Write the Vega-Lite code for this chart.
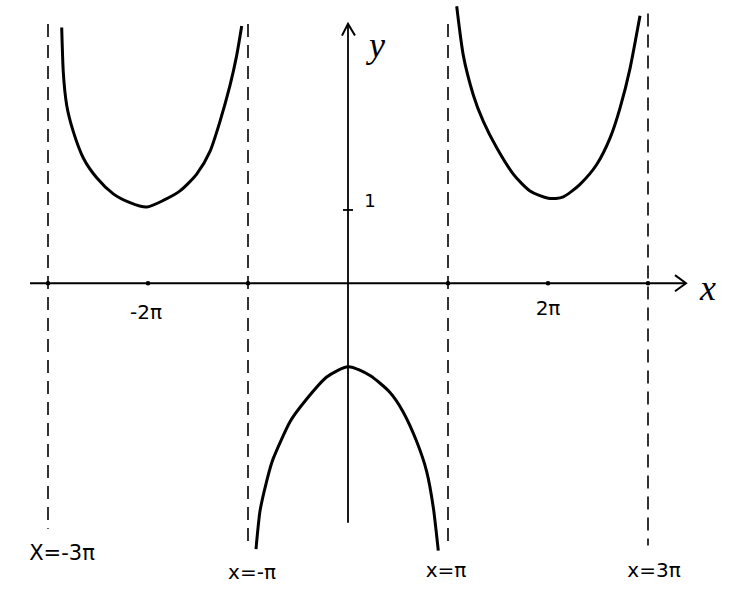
{
  "$schema": "https://vega.github.io/schema/vega-lite/v6.json",
  "width": 738,
  "height": 607,
  "autosize": {"type": "fit", "contains": "padding"},
  "padding": 0,
  "background": "white",
  "config": {"view": {"stroke": null}},
  "datasets": {
    "curve": [
      {"branch": "L", "i": 1, "x": -2.863, "y": 3.49},
      {"branch": "L", "i": 2, "x": -2.847, "y": 2.88},
      {"branch": "L", "i": 3, "x": -2.813, "y": 2.43},
      {"branch": "L", "i": 4, "x": -2.747, "y": 2.07},
      {"branch": "L", "i": 5, "x": -2.647, "y": 1.71},
      {"branch": "L", "i": 6, "x": -2.513, "y": 1.44},
      {"branch": "L", "i": 7, "x": -2.347, "y": 1.22},
      {"branch": "L", "i": 8, "x": -2.18, "y": 1.1},
      {"branch": "L", "i": 9, "x": -2.013, "y": 1.04},
      {"branch": "L", "i": 10, "x": -1.847, "y": 1.13},
      {"branch": "L", "i": 11, "x": -1.68, "y": 1.26},
      {"branch": "L", "i": 12, "x": -1.513, "y": 1.49},
      {"branch": "L", "i": 13, "x": -1.38, "y": 1.8},
      {"branch": "L", "i": 14, "x": -1.28, "y": 2.21},
      {"branch": "L", "i": 15, "x": -1.18, "y": 2.7},
      {"branch": "L", "i": 16, "x": -1.113, "y": 3.11},
      {"branch": "L", "i": 17, "x": -1.063, "y": 3.51},
      {"branch": "M", "i": 1, "x": -0.92, "y": -3.63},
      {"branch": "M", "i": 2, "x": -0.88, "y": -3.11},
      {"branch": "M", "i": 3, "x": -0.813, "y": -2.7},
      {"branch": "M", "i": 4, "x": -0.747, "y": -2.39},
      {"branch": "M", "i": 5, "x": -0.58, "y": -1.89},
      {"branch": "M", "i": 6, "x": -0.413, "y": -1.58},
      {"branch": "M", "i": 7, "x": -0.213, "y": -1.28},
      {"branch": "M", "i": 8, "x": 0.003, "y": -1.14},
      {"branch": "M", "i": 9, "x": 0.22, "y": -1.26},
      {"branch": "M", "i": 10, "x": 0.42, "y": -1.49},
      {"branch": "M", "i": 11, "x": 0.553, "y": -1.76},
      {"branch": "M", "i": 12, "x": 0.687, "y": -2.16},
      {"branch": "M", "i": 13, "x": 0.787, "y": -2.57},
      {"branch": "M", "i": 14, "x": 0.853, "y": -3.06},
      {"branch": "M", "i": 15, "x": 0.903, "y": -3.65},
      {"branch": "R", "i": 1, "x": 1.087, "y": 3.78},
      {"branch": "R", "i": 2, "x": 1.153, "y": 3.11},
      {"branch": "R", "i": 3, "x": 1.253, "y": 2.57},
      {"branch": "R", "i": 4, "x": 1.353, "y": 2.21},
      {"branch": "R", "i": 5, "x": 1.487, "y": 1.85},
      {"branch": "R", "i": 6, "x": 1.653, "y": 1.49},
      {"branch": "R", "i": 7, "x": 1.82, "y": 1.26},
      {"branch": "R", "i": 8, "x": 2.003, "y": 1.16},
      {"branch": "R", "i": 9, "x": 2.153, "y": 1.18},
      {"branch": "R", "i": 10, "x": 2.32, "y": 1.35},
      {"branch": "R", "i": 11, "x": 2.487, "y": 1.62},
      {"branch": "R", "i": 12, "x": 2.62, "y": 1.98},
      {"branch": "R", "i": 13, "x": 2.72, "y": 2.39},
      {"branch": "R", "i": 14, "x": 2.82, "y": 2.93},
      {"branch": "R", "i": 15, "x": 2.92, "y": 3.65}
    ],
    "asym": [
      {"x": -3, "y": 3.54, "y2": -3.35},
      {"x": -1, "y": 3.54, "y2": -3.62},
      {"x": 1, "y": 3.54, "y2": -3.58},
      {"x": 3, "y": 3.68, "y2": -3.58}
    ],
    "axes": [
      {"x": -3.18, "x2": 3.38, "y": 0, "y2": 0},
      {"x": 0, "x2": 0, "y": -3.27, "y2": 3.54},
      {"x": -0.05, "x2": 0.05, "y": 1, "y2": 1}
    ],
    "arrows": [
      {"a": "y", "i": 1, "x": -0.06, "y": 3.38},
      {"a": "y", "i": 2, "x": 0, "y": 3.54},
      {"a": "y", "i": 3, "x": 0.07, "y": 3.38},
      {"a": "x", "i": 1, "x": 3.27, "y": 0.11},
      {"a": "x", "i": 2, "x": 3.38, "y": 0},
      {"a": "x", "i": 3, "x": 3.27, "y": -0.11}
    ],
    "dots": [
      {"x": -3, "y": 0}, {"x": -2, "y": 0}, {"x": -1, "y": 0},
      {"x": 1, "y": 0}, {"x": 2, "y": 0}, {"x": 3, "y": 0}
    ],
    "labels": [
      {"t": "X=-3π", "x": -2.86, "y": -3.69, "s": 21},
      {"t": "x=-π", "x": -0.96, "y": -3.96, "s": 20},
      {"t": "x=π", "x": 0.98, "y": -3.93, "s": 20},
      {"t": "x=3π", "x": 3.06, "y": -3.93, "s": 20},
      {"t": "-2π", "x": -2.02, "y": -0.405, "s": 20},
      {"t": "2π", "x": 2.0, "y": -0.35, "s": 20},
      {"t": "1", "x": 0.22, "y": 1.11, "s": 18}
    ],
    "axlabels": [
      {"t": "y", "x": 0.29, "y": 3.24},
      {"t": "x", "x": 3.6, "y": -0.08}
    ]
  },
  "layer": [
    {
      "data": {"name": "asym"},
      "mark": {"type": "rule", "color": "black", "strokeWidth": 1.6, "strokeDash": [13, 8]},
      "encoding": {
        "x": {"field": "x", "type": "quantitative", "scale": {"domain": [-3.48, 3.9], "nice": false, "zero": false}, "axis": null},
        "y": {"field": "y", "type": "quantitative", "scale": {"domain": [-4.419, 3.784], "nice": false, "zero": false}, "axis": null},
        "y2": {"field": "y2"}
      }
    },
    {
      "data": {"name": "axes"},
      "mark": {"type": "rule", "color": "black", "strokeWidth": 1.8},
      "encoding": {
        "x": {"field": "x", "type": "quantitative"},
        "x2": {"field": "x2"},
        "y": {"field": "y", "type": "quantitative"},
        "y2": {"field": "y2"}
      }
    },
    {
      "data": {"name": "arrows"},
      "mark": {"type": "line", "color": "black", "strokeWidth": 2},
      "encoding": {
        "x": {"field": "x", "type": "quantitative"},
        "y": {"field": "y", "type": "quantitative"},
        "detail": {"field": "a"},
        "order": {"field": "i"}
      }
    },
    {
      "data": {"name": "dots"},
      "mark": {"type": "point", "filled": true, "color": "black", "size": 22, "opacity": 1},
      "encoding": {
        "x": {"field": "x", "type": "quantitative"},
        "y": {"field": "y", "type": "quantitative"}
      }
    },
    {
      "data": {"name": "curve"},
      "mark": {"type": "line", "color": "black", "strokeWidth": 3, "interpolate": "cardinal", "tension": 0.3},
      "encoding": {
        "x": {"field": "x", "type": "quantitative"},
        "y": {"field": "y", "type": "quantitative"},
        "detail": {"field": "branch"},
        "order": {"field": "i"}
      }
    },
    {
      "data": {"name": "labels"},
      "mark": {"type": "text", "color": "black", "font": "DejaVu Sans", "align": "center", "baseline": "middle"},
      "encoding": {
        "x": {"field": "x", "type": "quantitative"},
        "y": {"field": "y", "type": "quantitative"},
        "text": {"field": "t"},
        "size": {"field": "s", "type": "quantitative", "scale": null}
      }
    },
    {
      "data": {"name": "axlabels"},
      "mark": {"type": "text", "color": "black", "font": "Liberation Serif", "fontStyle": "italic", "fontSize": 36, "align": "center", "baseline": "middle"},
      "encoding": {
        "x": {"field": "x", "type": "quantitative"},
        "y": {"field": "y", "type": "quantitative"},
        "text": {"field": "t"}
      }
    }
  ]
}
